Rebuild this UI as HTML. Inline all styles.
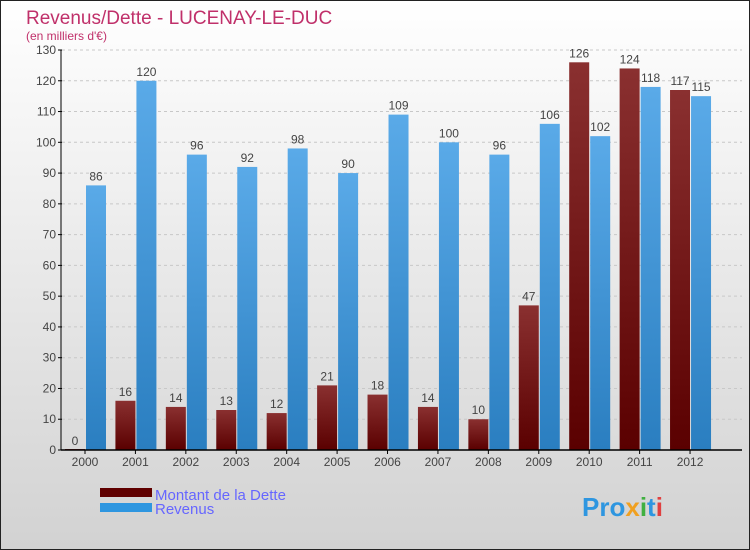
<!DOCTYPE html>
<html><head><meta charset="utf-8"><style>
body{margin:0;}
svg{display:block;font-family:"Liberation Sans",sans-serif;}
</style></head><body>
<svg id="c" width="750" height="550">
<defs>
<linearGradient id="bg" x1="0" y1="0" x2="0" y2="1"><stop offset="0" stop-color="#ffffff"/><stop offset="1" stop-color="#d2d2d2"/></linearGradient>
<linearGradient id="gd" x1="0" y1="0" x2="0" y2="1"><stop offset="0" stop-color="#8a3030"/><stop offset="1" stop-color="#5a0000"/></linearGradient>
<linearGradient id="gr" x1="0" y1="0" x2="0" y2="1"><stop offset="0" stop-color="#5aaae8"/><stop offset="1" stop-color="#2a7ec0"/></linearGradient>
</defs>
<rect x="0.5" y="0.5" width="749" height="549" fill="url(#bg)" stroke="#222"/>
<text x="26" y="24" font-size="19" fill="#c0306a">Revenus/Dette - LUCENAY-LE-DUC</text>
<text x="26" y="40" font-size="12" fill="#c0306a">(en milliers d'€)</text>
<g id="grid"></g><g id="bars"></g><g id="axes"></g>
<rect x="100" y="488" width="52" height="9" fill="#600000"/>
<text x="155" y="500" font-size="15" fill="#6666ff">Montant de la Dette</text>
<rect x="100" y="503" width="52" height="9" fill="#2e96e0"/>
<text x="155" y="514" font-size="15" fill="#6666ff">Revenus</text>
<text x="582" y="516" font-size="26" font-weight="bold" fill="#2e96e0">Pro<tspan fill="#f0a020">x</tspan><tspan fill="#40b040">i</tspan>t<tspan fill="#e04040">i</tspan></text>
</svg>
<script>
const years=["2000","2001","2002","2003","2004","2005","2006","2007","2008","2009","2010","2011","2012"];
const dette=[0,16,14,13,12,21,18,14,10,47,126,124,117];
const revenus=[86,120,96,92,98,90,109,100,96,106,102,118,115];
const yTicks=[0,10,20,30,40,50,60,70,80,90,100,110,120,130];
const NS="http://www.w3.org/2000/svg";
const y=v=>450-v*(400/130);
const x=i=>85+i*50.42;
function mk(t,a,p){const e=document.createElementNS(NS,t);for(const k in a)e.setAttribute(k,a[k]);p.appendChild(e);return e;}
const G=document.getElementById('grid'),B=document.getElementById('bars'),A=document.getElementById('axes');
yTicks.forEach(v=>{
 if(v>0){const l=mk('line',{x1:62,x2:742,y1:y(v),y2:y(v),stroke:'#c8c8c8','stroke-dasharray':'3,3'},G);
 }
 const t=mk('line',{x1:58,x2:62,y1:y(v),y2:y(v),stroke:'#000'},A);
 
 const tx=mk('text',{x:56,y:y(v)+4,'font-size':12,fill:'#444','text-anchor':'end'},A);tx.textContent=v;
 
});
years.forEach((yr,i)=>{
 const c=x(i);
 const d=mk('rect',{x:c-20,y:y(dette[i])-(dette[i]?0:1),width:20,height:Math.max(1,450-y(dette[i])),fill:'url(#gd)'},B);
 
 const r=mk('rect',{x:c+1,y:y(revenus[i]),width:20,height:450-y(revenus[i]),fill:'url(#gr)'},B);
 
 const dl=mk('text',{x:c-10,y:y(dette[i])-5,'font-size':12,fill:'#444','text-anchor':'middle'},B);dl.textContent=dette[i];
 
 const rl=mk('text',{x:c+11,y:y(revenus[i])-5,'font-size':12,fill:'#444','text-anchor':'middle'},B);rl.textContent=revenus[i];
 
 const t=mk('line',{x1:c,x2:c,y1:450,y2:454,stroke:'#000'},A);
 
 const xl=mk('text',{x:c,y:466,'font-size':12,fill:'#444','text-anchor':'middle'},A);xl.textContent=yr;
 
});
const ya=mk('line',{x1:61,x2:61,y1:y(130),y2:450,stroke:'#000'},A);

const xa=mk('line',{x1:61,x2:742,y1:450,y2:450,stroke:'#000','stroke-width':1.5},A);

</script>
</body></html>
